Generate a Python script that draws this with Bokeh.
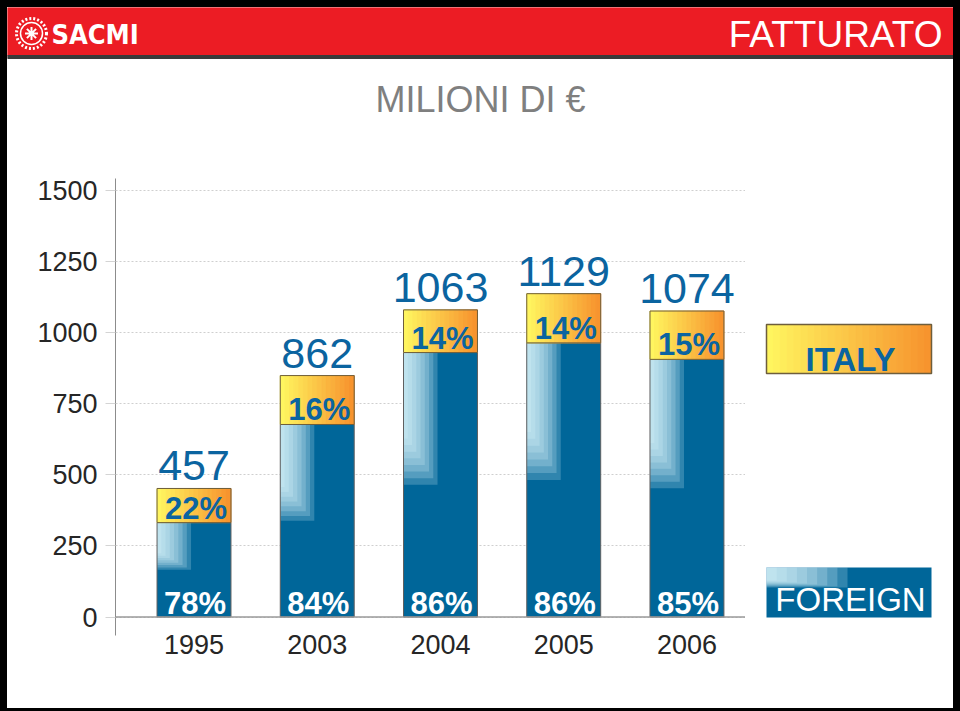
from bokeh.plotting import figure
from bokeh.models import Range1d, FixedTicker, Span, ColumnDataSource, LabelSet, Label
from bokeh.layouts import column, row
from bokeh.embed import file_html
from bokeh.resources import INLINE
from bokeh.core.properties import value

# ---------------- data ----------------
years = ["1995", "2003", "2004", "2005", "2006"]
foreign = [332, 677, 930, 964, 906]          # drawn height of FOREIGN segment (milioni di €)
italy = [120, 172, 150, 173, 170]            # drawn height of ITALY segment
total_labels = ["457", "862", "1063", "1129", "1074"]
italy_pct = ["22%", "16%", "14%", "14%", "15%"]
foreign_pct = ["78%", "84%", "86%", "86%", "85%"]
y_ticks = [0, 250, 500, 750, 1000, 1250, 1500]

# ---------------- style ----------------
FONT = "Liberation Sans"
BLUE = "#006699"
TXT_BLUE = "#0b64a0"
YEL0, YEL1 = (255, 245, 95), (247, 148, 46)
HIL = "#e4f8ff"


def lerp(c0, c1, t):
    return "#%02x%02x%02x" % tuple(int(round(a + (b - a) * t)) for a, b in zip(c0, c1))


W = 946
HEAD_H = 153
MB_TOP, FRAME_H, MB_BOT = 18, 457, 73
MB_LEFT, FRAME_W = 108, 630
LEG_W = W - MB_LEFT - FRAME_W


def blank(fig):
    fig.axis.visible = False
    fig.grid.visible = False
    fig.outline_line_color = None
    fig.background_fill_color = "white"
    fig.border_fill_color = "white"


# ---------------- header ----------------
head = figure(width=W, height=HEAD_H, x_range=Range1d(0, W), y_range=Range1d(HEAD_H, 0),
              output_backend="svg", toolbar_location=None, min_border=0)
blank(head)
head.quad(left=[0], right=[W], top=[0], bottom=[48], color="#ec1c24")
head.quad(left=[0], right=[W], top=[48], bottom=[51], color="#3a3a3a")
head.text(x=[935], y=[27], text=["FATTURATO"], text_font=value(FONT), text_font_size="37px",
          text_color="white", text_align="right", text_baseline="middle")
head.text(x=[473], y=[92], text=["MILIONI DI €"], text_font=value(FONT), text_font_size="36px",
          text_color="#7f7f7f", text_align="center", text_baseline="middle")
head.scatter(x=[24], y=[26], size=30, marker="circle", fill_color=None, line_color="white",
             line_width=3, line_dash="2 2")
head.scatter(x=[24], y=[26], size=22, marker="circle", fill_color=None, line_color="white",
             line_width=1.5)
head.scatter(x=[24], y=[26], size=13, marker="asterisk", line_color="white", line_width=2)
head.text(x=[44], y=[27], text=["SACMI"], text_font=value("DejaVu Sans Condensed"),
          text_font_size="27px", text_font_style="bold", text_color="white",
          text_align="left", text_baseline="middle")

# ---------------- main chart ----------------
xs = list(range(len(years)))
totals = [f + i for f, i in zip(foreign, italy)]
BW = 0.6

p = figure(frame_width=FRAME_W, frame_height=FRAME_H, x_range=Range1d(-0.637, 4.475),
           y_range=Range1d(-65, 1542), min_border_left=MB_LEFT, min_border_right=0,
           min_border_top=MB_TOP, min_border_bottom=MB_BOT, output_backend="svg",
           toolbar_location=None)
p.outline_line_color = None
p.background_fill_color = "white"
p.border_fill_color = "white"

p.yaxis.ticker = FixedTicker(ticks=y_ticks)
p.yaxis.major_label_text_font = FONT
p.yaxis.major_label_text_font_size = "27px"
p.yaxis.major_label_text_color = "#262626"
p.yaxis.axis_line_color = "#8c8c8c"
p.yaxis.major_tick_out = 10
p.yaxis.major_tick_in = 0
p.yaxis.major_tick_line_color = "#d4d4d4"
p.yaxis.minor_tick_line_color = None
p.yaxis.major_label_standoff = 8

p.xaxis.ticker = FixedTicker(ticks=xs)
p.xaxis.major_label_overrides = {i: y for i, y in zip(xs, years)}
p.xaxis.axis_line_color = None
p.xaxis.major_tick_line_color = None
p.xaxis.minor_tick_line_color = None
p.xaxis.major_label_text_font = FONT
p.xaxis.major_label_text_font_size = "27px"
p.xaxis.major_label_text_color = "#262626"
p.xaxis.major_label_standoff = -7

p.xgrid.visible = False
p.ygrid.ticker = FixedTicker(ticks=y_ticks)
p.ygrid.grid_line_color = "#cfcfcf"
p.ygrid.grid_line_dash = "2 2"

p.add_layout(Span(location=0, dimension="width", line_color="#9a9a9a", line_width=1.5))

# FOREIGN segments
p.vbar(x=xs, width=BW, bottom=0, top=foreign, fill_color=BLUE, line_color=None)
NL = 8
for i in range(1, NL + 1):
    lefts = [x - BW / 2 for x in xs]
    rights = [x - BW / 2 + BW * 0.46 * i / NL for x in xs]
    bottoms = [f - f * 0.5 * (0.6 + 0.4 * i / NL) for f in foreign]
    p.quad(left=lefts, right=rights, top=foreign, bottom=bottoms,
           fill_color=HIL, fill_alpha=0.21, line_color=None)
p.vbar(x=xs, width=BW, bottom=0, top=foreign, fill_color=None, line_color="#5f5f5f", line_width=1)

# ITALY segments (horizontal gradient)
NS = 16
for k in range(NS):
    lefts = [x - BW / 2 + BW * k / NS for x in xs]
    rights = [x - BW / 2 + BW * (k + 1) / NS for x in xs]
    p.quad(left=lefts, right=rights, bottom=foreign, top=totals,
           color=lerp(YEL0, YEL1, k / (NS - 1)))
p.vbar(x=xs, width=BW, bottom=foreign, top=totals, fill_color=None, line_color="#6e5e3c",
       line_width=1)

src = ColumnDataSource(dict(x=xs, tot=totals, fr=foreign, zero=[0] * len(xs),
                            tl=total_labels, ip=italy_pct, fp=foreign_pct))
p.add_layout(LabelSet(x="x", y="tot", text="tl", source=src, y_offset=8,
                      text_align="center", text_baseline="alphabetic",
                      text_font=value(FONT), text_font_size="43px", text_color=TXT_BLUE))
p.add_layout(LabelSet(x="x", y="fr", text="ip", source=src, y_offset=4, x_offset=2,
                      text_align="center", text_baseline="alphabetic",
                      text_font=value(FONT), text_font_size="31px", text_font_style="bold",
                      text_color=TXT_BLUE))
p.add_layout(LabelSet(x="x", y="zero", text="fp", source=src, y_offset=3, x_offset=1,
                      text_align="center", text_baseline="alphabetic",
                      text_font=value(FONT), text_font_size="31px", text_font_style="bold",
                      text_color="white"))

# ---------------- legend (frame aligned with the chart frame, y up from frame bottom) ----------------
leg = figure(frame_width=LEG_W, frame_height=FRAME_H, x_range=Range1d(0, LEG_W),
             y_range=Range1d(0, FRAME_H), output_backend="svg", toolbar_location=None,
             min_border_left=0, min_border_right=0, min_border_top=MB_TOP,
             min_border_bottom=MB_BOT)
blank(leg)
L0, L1 = 21, 186
IT_B, IT_T = 262, 311
FO_B, FO_T = 18, 68
NS2 = 24
for k in range(NS2):
    leg.quad(left=[L0 + (L1 - L0) * k / NS2], right=[L0 + (L1 - L0) * (k + 1) / NS2],
             top=[IT_T], bottom=[IT_B], color=lerp(YEL0, YEL1, k / (NS2 - 1)))
leg.quad(left=[L0], right=[L1], top=[IT_T], bottom=[IT_B], fill_color=None,
         line_color="#6e5e3c", line_width=1.5)
leg.add_layout(Label(x=105, y=IT_B + 14, text="ITALY", text_font=FONT, text_font_size="33px",
                     text_font_style="bold", text_color=TXT_BLUE, text_align="center",
                     text_baseline="alphabetic"))

leg.quad(left=[L0], right=[L1], top=[FO_T], bottom=[FO_B], fill_color=BLUE, line_color=None)
for i in range(1, NL + 1):
    leg.quad(left=[L0], right=[L0 + 81 * i / NL], top=[FO_T],
             bottom=[FO_T - 20 * (0.6 + 0.4 * i / NL)],
             fill_color=HIL, fill_alpha=0.21, line_color=None)
leg.add_layout(Label(x=105, y=FO_B + 18, text="FOREIGN", text_font=FONT, text_font_size="33px",
                     text_color="white", text_align="center", text_baseline="alphabetic"))

layout = column(head, row(p, leg))
html = file_html(layout, INLINE, title="FATTURATO")
html = html.replace(
    "</head>",
    "<style>body{background:#fff !important;border-style:solid;border-color:#000;"
    "border-width:7px 7px 3px 7px;}</style></head>", 1)
open("out.html", "w").write(html)
